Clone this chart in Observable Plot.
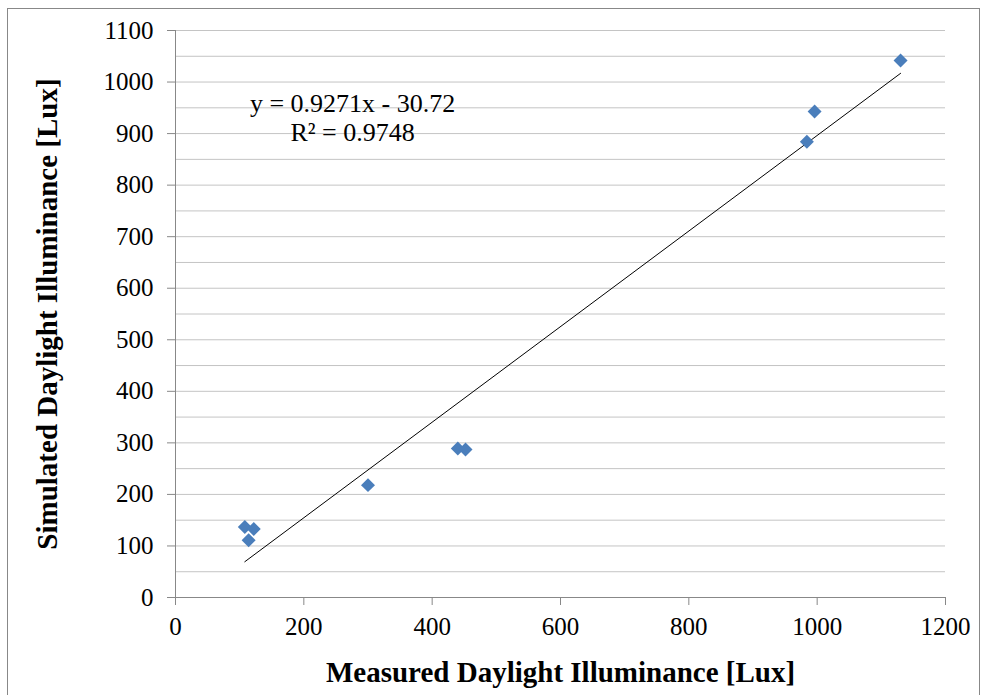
<!DOCTYPE html>
<html>
<head>
<meta charset="utf-8">
<script src="https://cdn.jsdelivr.net/npm/d3@7"></script>
<script src="https://cdn.jsdelivr.net/npm/@observablehq/plot@0.6"></script>
<style>
  html, body { margin: 0; padding: 0; background: #fff; }
  #wrap { position: relative; width: 983px; height: 695px; overflow: hidden; }
  #frame { position: absolute; left: 7px; top: 8px; width: 973px; height: 700px; border: 1px solid #888; box-sizing: border-box; pointer-events: none; }
  #chart { position: absolute; left: 0; top: 0; }
</style>
</head>
<body>
<div id="wrap">
  <div id="chart"></div>
  <div id="frame"></div>
</div>
<script>
// Data
const measured  = [108, 122, 114, 300, 440, 452, 984, 996, 1130];
const simulated = [137, 133, 111, 218, 289, 287, 884, 943, 1042];
const slope = 0.9271, intercept = -30.72;
const equationLines = ["y = 0.9271x - 30.72", "R² = 0.9748"];
const equationPos = [{x: 276, y: 941}, {x: 276, y: 885}];
const xTicks = [0, 200, 400, 600, 800, 1000, 1200];
const yTicks = [0, 100, 200, 300, 400, 500, 600, 700, 800, 900, 1000, 1100];
const yGrid = d3.range(0, 1101, 50);
const xTitle = "Measured Daylight Illuminance [Lux]";
const yTitle = "Simulated Daylight Illuminance [Lux]";

const points = measured.map((m, i) => ({x: m, y: simulated[i]}));
const xMin = d3.min(measured), xMax = d3.max(measured);
const trend = [xMin, xMax].map(x => ({x, y: slope * x + intercept}));
const eq = equationLines.map((t, i) => ({text: t, ...equationPos[i]}));

const chart = Plot.plot({
  width: 983,
  height: 695,
  marginLeft: 175,
  marginRight: 38,
  marginTop: 30,
  marginBottom: 98,
  style: {fontFamily: "'Liberation Serif', 'Times New Roman', serif", fontSize: "25px", color: "#000", background: "transparent"},
  x: {domain: [0, 1200]},
  y: {domain: [0, 1100]},
  marks: [
    Plot.gridY(yGrid, {stroke: "#c4c4c4", strokeOpacity: 1}),
    Plot.ruleX([0], {stroke: "#888"}),
    Plot.ruleY([0], {stroke: "#888"}),
    Plot.axisY(yTicks, {tickSize: 8, tickPadding: 14, stroke: "#888", fontSize: 25, label: null, tickFormat: d => String(d)}),
    Plot.axisX(xTicks, {tickSize: 8, tickPadding: 12, stroke: "#888", fontSize: 25, label: null, tickFormat: d => String(d)}),
    Plot.line(trend, {x: "x", y: "y", stroke: "#000", strokeWidth: 1}),
    Plot.dot(points, {x: "x", y: "y", symbol: "diamond2", r: 6.3, fill: "#4a7ebb", stroke: "none"}),
    Plot.text(eq, {x: "x", y: "y", text: "text", fontSize: 26, fill: "#000", textAnchor: "middle", lineAnchor: "bottom"}),
    Plot.text([xTitle], {frameAnchor: "bottom", dy: 84, fontSize: 29, fontWeight: "bold", fill: "#000", lineAnchor: "bottom", textAnchor: "middle"}),
    Plot.text([yTitle], {frameAnchor: "left", dx: -128, rotate: -90, fontSize: 29, fontWeight: "bold", fill: "#000", textAnchor: "middle", lineAnchor: "middle"})
  ]
});
document.getElementById("chart").appendChild(chart);
</script>
</body>
</html>
